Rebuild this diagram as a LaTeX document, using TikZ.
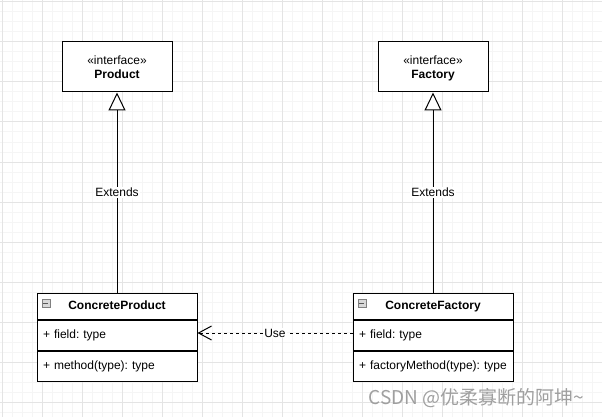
\documentclass[tikz,border=0pt]{standalone}
\usepackage{fontspec}
\setmainfont{Liberation Sans}
\newfontfamily\cjkfont{Noto Sans CJK SC}
\usetikzlibrary{arrows.meta, positioning}
\frenchspacing
\definecolor{gridmajor}{HTML}{E4E4E4}
\definecolor{gridminor}{HTML}{F5F5F5}
\tikzstyle{iface} = [rectangle, draw, line width=1pt, fill=white, minimum width=110pt, minimum height=50pt, align=center, font=\fontsize{12}{14}\selectfont]
\tikzstyle{classhead} = [rectangle, draw, line width=1pt, fill=white, minimum width=160pt, minimum height=26pt, text height=9pt, text depth=3pt, font=\fontsize{12}{14}\selectfont\bfseries]
\tikzstyle{classpart} = [rectangle, draw, line width=1pt, fill=white, minimum width=160pt, minimum height=30pt, inner xsep=6pt, text width=148pt, align=left, font=\fontsize{12}{14}\selectfont]
\tikzstyle{toggle} = [rectangle, draw=gray, fill=gray!30, minimum size=8pt, inner sep=0pt]
\tikzstyle{extends} = [line width=1pt, -{Triangle[fill=white, length=18pt, width=17pt]}]
\tikzstyle{use} = [line width=1pt, dash pattern=on 3pt off 3pt, -{Straight Barb[length=13pt, width=14pt]}]
\tikzstyle{edgelabel} = [fill=white, inner sep=1pt, font=\fontsize{12}{14}\selectfont]

\begin{document}
\begin{tikzpicture}[x=1pt, y=-1pt]

  \useasboundingbox (0,0) rectangle (602,417);

  % background grid
  \foreach \gx in {2,12,...,602} \draw [gridminor, line width=1pt] (\gx,0) -- (\gx,417);
  \foreach \gy in {2,12,...,412} \draw [gridminor, line width=1pt] (0,\gy) -- (602,\gy);
  \foreach \gx in {2,42,...,602} \draw [gridmajor, line width=1pt] (\gx,0) -- (\gx,417);
  \foreach \gy in {2,42,...,402} \draw [gridmajor, line width=1pt] (0,\gy) -- (602,\gy);

  \node (product) [iface] at (117,67) {\rule{0pt}{13pt}«interface»\\\textbf{Product}\strut};
  \node (factory) [iface, right=205pt of product] {\rule{0pt}{13pt}«interface»\\\textbf{Factory}\strut};

  \node (cproduct) [classhead, below=200pt of product] {ConcreteProduct};
  \node (cproductfields) [classpart, below=0pt of cproduct] {+ field: type};
  \node (cproductmethods) [classpart, below=0pt of cproductfields] {+ method(type): type};
  \node (cproducttoggle) [toggle, below right=6pt and 5pt of cproduct.north west] {};

  \node (cfactory) [classhead, below=200pt of factory] {ConcreteFactory};
  \node (cfactoryfields) [classpart, below=0pt of cfactory] {+ field: type};
  \node (cfactorymethods) [classpart, below=0pt of cfactoryfields] {+ factoryMethod(type): type};
  \node (cfactorytoggle) [toggle, below right=6pt and 5pt of cfactory.north west] {};

  \draw [gray!70!black] ([xshift=1.5pt]cproducttoggle.west) -- ([xshift=-1.5pt]cproducttoggle.east);
  \draw [gray!70!black] ([xshift=1.5pt]cfactorytoggle.west) -- ([xshift=-1.5pt]cfactorytoggle.east);

  \draw [extends] (cproduct) -- node[edgelabel] {Extends} (product);
  \draw [extends] (cfactory) -- node[edgelabel] {Extends} (factory);

  \draw [use] ([yshift=2pt]cfactoryfields.west) -- node[edgelabel] {Use} ([yshift=2pt]cproductfields.east);

  \node (watermark) [anchor=east, text=gray!75, font=\cjkfont\fontsize{19}{21}\selectfont] at (588,398) {CSDN @优柔寡断的阿坤\char`\~};

\end{tikzpicture}
\end{document}
